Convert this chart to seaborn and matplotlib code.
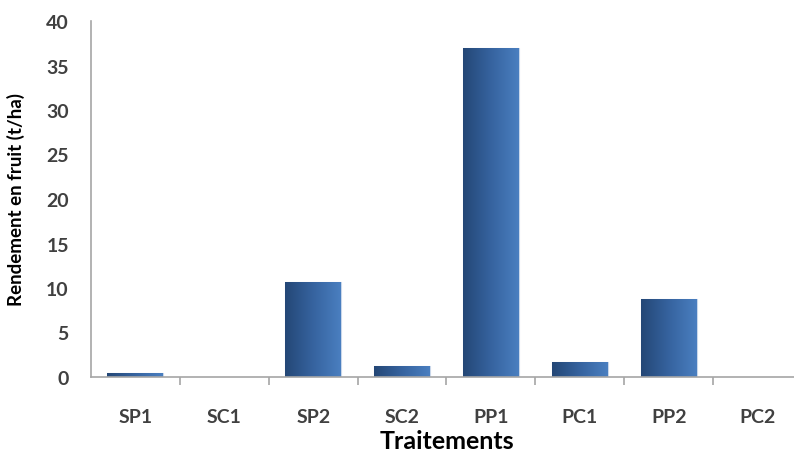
import numpy as np
import pandas as pd
import matplotlib
matplotlib.use("Agg")
import matplotlib.pyplot as plt
from matplotlib.colors import LinearSegmentedColormap
import seaborn as sns

# Fruit yield per treatment (t/ha)
traitements = ["SP1", "SC1", "SP2", "SC2", "PP1", "PC1", "PP2", "PC2"]
rendement = [0.42, 0.0, 10.7, 1.25, 36.95, 1.65, 8.76, 0.0]

y_ticks = [0, 5, 10, 15, 20, 25, 30, 35, 40]

df = pd.DataFrame({"Traitements": traitements, "Rendement": rendement})

sns.set_theme(style="white")
plt.rcParams["font.family"] = ["Lato", "DejaVu Sans"]

fig = plt.figure(figsize=(7.94, 4.52), dpi=100)
ax = fig.add_axes([91 / 794, 74 / 452, 711 / 794, 356 / 452])

sns.barplot(data=df, x="Traitements", y="Rendement", color="#3a6aa8",
            width=0.63, ax=ax, saturation=1)

# Horizontal gradient fill for each bar, dark on the left to lighter on the right
grad_cmap = LinearSegmentedColormap.from_list(
    "bar_grad", ["#244776", "#36639f", "#4a7fc0"])
grad = np.linspace(0, 1, 256).reshape(1, -1)
for patch in ax.patches:
    x0, y0 = patch.get_x(), patch.get_y()
    w, h = patch.get_width(), patch.get_height()
    if h <= 0:
        continue
    patch.set_edgecolor("#c9d7ea")
    patch.set_linewidth(0.8)
    im = ax.imshow(grad, cmap=grad_cmap, aspect="auto",
                   extent=(x0, x0 + w, y0, y0 + h), zorder=patch.get_zorder() + 0.1,
                   interpolation="bicubic")
    im.set_clip_path(patch)

ax.set_xlim(-0.5, len(traitements) - 0.5)
ax.set_ylim(0, 40)
ax.set_yticks(y_ticks)

sns.despine(ax=ax)
for side in ("left", "bottom"):
    ax.spines[side].set_color("#a6a6a6")
    ax.spines[side].set_linewidth(1.2)

label_color = "#404040"
ax.tick_params(axis="y", which="major", direction="out", length=9, width=1.2,
               color="#a6a6a6", pad=7, labelsize=14, labelcolor=label_color)
for t in ax.get_yticklabels():
    t.set_fontweight("bold")

# Category labels centred, tick marks between categories
ax.set_xticks(range(len(traitements)))
ax.set_xticklabels(traitements)
ax.set_xticks(np.arange(0.5, len(traitements) - 0.5, 1.0), minor=True)
ax.tick_params(axis="x", which="major", length=0, pad=22, labelsize=14,
               labelcolor=label_color)
ax.tick_params(axis="x", which="minor", direction="out", length=6, width=1.2,
               color="#a6a6a6", bottom=True)
for t in ax.get_xticklabels():
    t.set_fontweight("bold")

ax.set_xlabel("Traitements", fontsize=18, fontweight="bold", color="black")
ax.set_ylabel("Rendement en fruit (t/ha)", fontsize=13.5, fontweight="bold",
              color="black")
ax.xaxis.set_label_coords(0.5, -0.145)
ax.yaxis.set_label_coords(-0.093, 0.5)

fig.savefig("out.png", dpi=100)
